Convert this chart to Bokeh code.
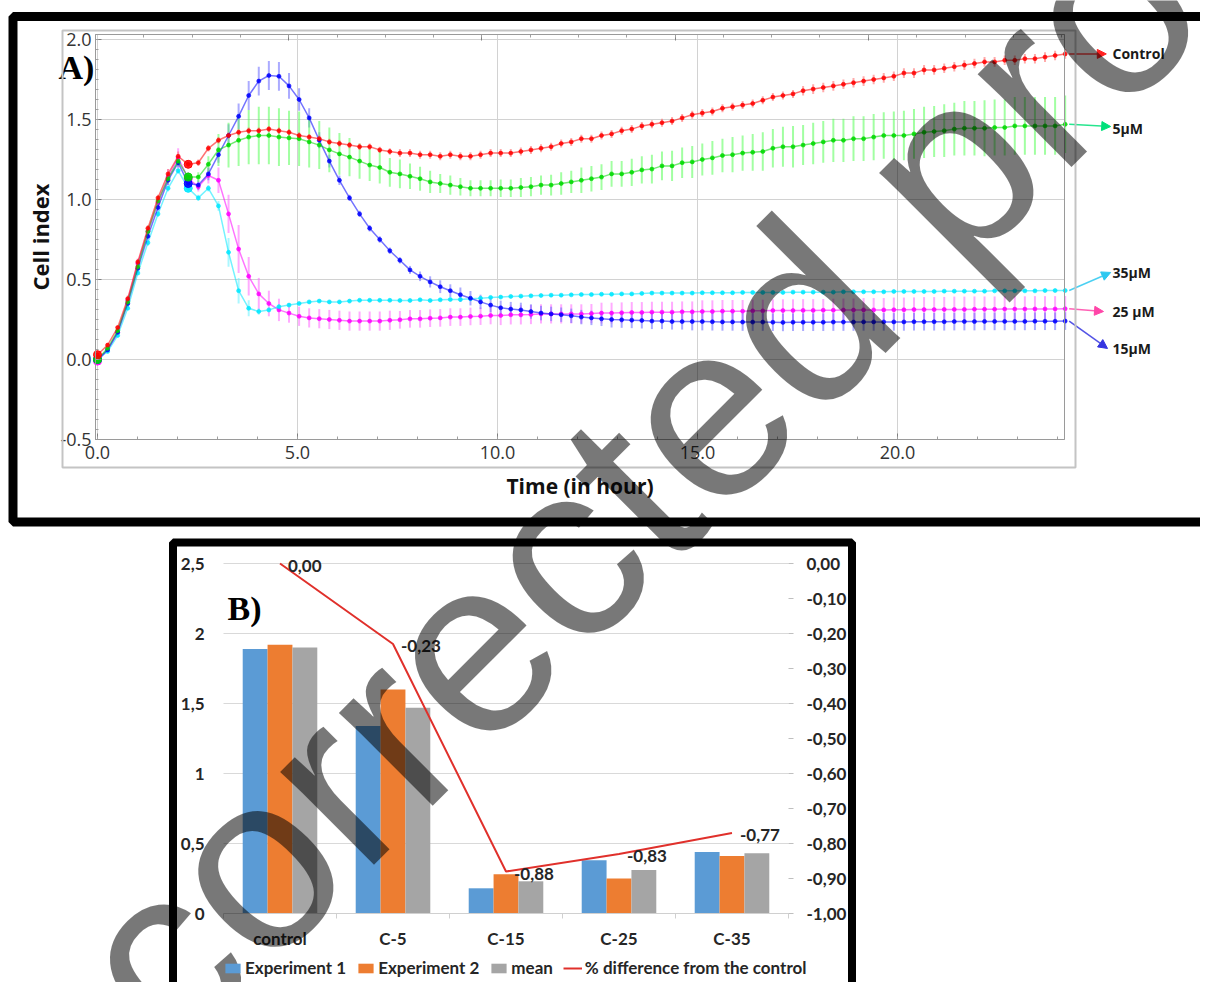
from bokeh.plotting import figure
from bokeh.models import (Range1d, LinearAxis, FixedTicker,
                          BoxAnnotation, Label, Arrow, NormalHead, Legend,
                          LegendItem, ColumnDataSource)
from bokeh.transform import dodge
from bokeh.core.properties import value
from bokeh.embed import file_html
from bokeh.resources import INLINE

# ======================= Panel A data (cell index vs time) =======================
hours = [round(0.252 * i, 3) for i in range(97)]   # sampling grid (~15 min)

control = [0.03, 0.09, 0.20, 0.38, 0.61, 0.82, 1.01, 1.16, 1.27,
           1.22, 1.23, 1.32, 1.37, 1.40, 1.42, 1.43, 1.43, 1.44, 1.43, 1.42, 1.40,
           1.39, 1.38, 1.36, 1.35, 1.34, 1.33, 1.33, 1.31, 1.30,
           1.29, 1.29, 1.28, 1.28, 1.27, 1.28, 1.27, 1.27, 1.28, 1.29,
           1.29, 1.29, 1.30, 1.31, 1.32, 1.33, 1.35, 1.36, 1.38, 1.38,
           1.40, 1.41, 1.43, 1.44, 1.46, 1.47, 1.48, 1.49, 1.51, 1.53,
           1.54, 1.55, 1.57, 1.58, 1.59, 1.60, 1.62, 1.64, 1.65, 1.66,
           1.68, 1.69, 1.70, 1.71, 1.72, 1.73, 1.74, 1.75, 1.76, 1.77,
           1.79, 1.79, 1.81, 1.81, 1.82, 1.83, 1.84, 1.85, 1.86, 1.86,
           1.87, 1.87, 1.88, 1.88, 1.89, 1.90, 1.91]
control_err = [0.01, 0.01, 0.01, 0.02, 0.02, 0.02, 0.02, 0.03, 0.03,
               0.02, 0.02, 0.02, 0.02, 0.02, 0.02, 0.02, 0.02, 0.02, 0.02, 0.02, 0.02,
               0.02, 0.02, 0.02, 0.02, 0.02, 0.02, 0.02, 0.02, 0.02,
               0.025, 0.025, 0.025, 0.025, 0.025, 0.025, 0.025, 0.025, 0.025, 0.025,
               0.025, 0.025, 0.025, 0.025, 0.025, 0.025, 0.025, 0.025, 0.025, 0.025,
               0.025, 0.025, 0.025, 0.025, 0.025, 0.025, 0.025, 0.025, 0.025, 0.025,
               0.025, 0.025, 0.025, 0.025, 0.025, 0.025, 0.025, 0.025, 0.025, 0.025,
               0.03, 0.03, 0.03, 0.03, 0.03, 0.03, 0.03, 0.03, 0.03, 0.03,
               0.03, 0.03, 0.03, 0.03, 0.03, 0.03, 0.03, 0.03, 0.03, 0.03,
               0.03, 0.03, 0.03, 0.03, 0.03, 0.03, 0.03]

um5 = [0.00, 0.07, 0.18, 0.36, 0.58, 0.80, 0.99, 1.13, 1.24,
       1.14, 1.14, 1.22, 1.31, 1.34, 1.37, 1.39, 1.40, 1.40, 1.39, 1.385, 1.38,
       1.36, 1.34, 1.31, 1.285, 1.265, 1.24, 1.215, 1.20, 1.17,
       1.16, 1.145, 1.13, 1.11, 1.10, 1.09, 1.08, 1.07, 1.07, 1.07,
       1.07, 1.07, 1.075, 1.08, 1.09, 1.09, 1.10, 1.11, 1.12, 1.13,
       1.14, 1.16, 1.16, 1.17, 1.185, 1.19, 1.21, 1.21, 1.23, 1.235,
       1.25, 1.26, 1.275, 1.28, 1.29, 1.295, 1.30, 1.32, 1.33, 1.33,
       1.34, 1.35, 1.36, 1.37, 1.37, 1.38, 1.38, 1.39, 1.40, 1.40,
       1.40, 1.41, 1.42, 1.425, 1.43, 1.44, 1.445, 1.445, 1.445, 1.45,
       1.45, 1.46, 1.46, 1.46, 1.46, 1.46, 1.47]
um5_err = [0.01, 0.01, 0.02, 0.02, 0.02, 0.03, 0.03, 0.03, 0.03,
           0.03, 0.03, 0.05, 0.10, 0.14, 0.16, 0.17, 0.18, 0.18, 0.18, 0.17, 0.17,
           0.16, 0.15, 0.14, 0.13, 0.12, 0.11, 0.10, 0.10, 0.09,
           0.09, 0.08, 0.075, 0.07, 0.06, 0.06, 0.055, 0.05, 0.05, 0.05,
           0.055, 0.055, 0.06, 0.06, 0.06, 0.065, 0.07, 0.07, 0.08, 0.08,
           0.08, 0.08, 0.08, 0.085, 0.085, 0.09, 0.09, 0.095, 0.095, 0.10,
           0.10, 0.105, 0.105, 0.11, 0.11, 0.115, 0.12, 0.12, 0.125, 0.13,
           0.125, 0.13, 0.13, 0.135, 0.135, 0.14, 0.14, 0.145, 0.145, 0.15,
           0.155, 0.155, 0.16, 0.16, 0.165, 0.165, 0.17, 0.17, 0.175, 0.175,
           0.175, 0.18, 0.18, 0.18, 0.18, 0.18, 0.18]

um15 = [0.00, 0.06, 0.17, 0.35, 0.57, 0.77, 0.95, 1.12, 1.23,
        1.10, 1.09, 1.16, 1.28, 1.40, 1.52, 1.65, 1.74, 1.775, 1.77, 1.71, 1.625,
        1.51, 1.37, 1.24, 1.12, 1.01, 0.91, 0.82, 0.75, 0.68,
        0.62, 0.56, 0.52, 0.485, 0.455, 0.43, 0.405, 0.383, 0.36, 0.34,
        0.323, 0.315, 0.31, 0.30, 0.29, 0.285, 0.28, 0.273, 0.265, 0.26,
        0.254, 0.25, 0.248, 0.246, 0.244, 0.24, 0.24, 0.237, 0.237, 0.237,
        0.237, 0.236, 0.235, 0.235, 0.234, 0.234, 0.234, 0.233, 0.232, 0.233,
        0.233, 0.233, 0.233, 0.234, 0.234, 0.234, 0.235, 0.235, 0.235, 0.235,
        0.235, 0.236, 0.236, 0.236, 0.236, 0.237, 0.237, 0.237, 0.238, 0.238,
        0.238, 0.238, 0.238, 0.239, 0.239, 0.239, 0.24]
um15_err = [0.01, 0.01, 0.01, 0.02, 0.02, 0.02, 0.02, 0.03, 0.03,
            0.03, 0.03, 0.04, 0.05, 0.07, 0.08, 0.09, 0.09, 0.09, 0.09, 0.08, 0.07,
            0.06, 0.05, 0.04, 0.03, 0.02, 0.02, 0.02, 0.02, 0.02,
            0.02, 0.025, 0.03, 0.035, 0.04, 0.04, 0.045, 0.045, 0.045, 0.045,
            0.045, 0.045, 0.045, 0.045, 0.045, 0.045, 0.045, 0.045, 0.045, 0.045,
            0.045, 0.05, 0.05, 0.05, 0.05, 0.05, 0.05, 0.05, 0.05, 0.055,
            0.055, 0.055, 0.055, 0.055, 0.055, 0.055, 0.055, 0.055, 0.055, 0.055,
            0.055, 0.055, 0.055, 0.055, 0.055, 0.055, 0.055, 0.055, 0.055, 0.055,
            0.055, 0.055, 0.055, 0.055, 0.055, 0.055, 0.055, 0.055, 0.055, 0.055,
            0.055, 0.055, 0.055, 0.055, 0.055, 0.055, 0.055]

um25 = [-0.01, 0.06, 0.17, 0.37, 0.60, 0.80, 0.98, 1.14, 1.26,
        1.13, 1.08, 1.15, 1.12, 0.91, 0.69, 0.52, 0.41, 0.35, 0.31, 0.29, 0.27,
        0.26, 0.255, 0.25, 0.245, 0.24, 0.24, 0.24, 0.24, 0.245,
        0.248, 0.254, 0.254, 0.258, 0.26, 0.265, 0.265, 0.269, 0.271, 0.275,
        0.275, 0.279, 0.279, 0.281, 0.285, 0.285, 0.285, 0.285, 0.285, 0.287,
        0.29, 0.29, 0.292, 0.294, 0.294, 0.296, 0.296, 0.296, 0.298, 0.298,
        0.30, 0.30, 0.302, 0.302, 0.302, 0.304, 0.304, 0.306, 0.306, 0.306,
        0.307, 0.307, 0.308, 0.308, 0.309, 0.309, 0.31, 0.31, 0.31, 0.311,
        0.311, 0.312, 0.312, 0.312, 0.313, 0.313, 0.313, 0.314, 0.314, 0.314,
        0.315, 0.315, 0.315, 0.316, 0.316, 0.316, 0.317]
um25_err = [0.01, 0.01, 0.02, 0.02, 0.03, 0.03, 0.04, 0.05, 0.06,
            0.04, 0.03, 0.05, 0.08, 0.12, 0.15, 0.12, 0.10, 0.08, 0.07, 0.06, 0.06,
            0.06, 0.06, 0.06, 0.06, 0.06, 0.06, 0.06, 0.06, 0.06,
            0.055, 0.055, 0.055, 0.055, 0.055, 0.055, 0.055, 0.055, 0.055, 0.055,
            0.06, 0.06, 0.06, 0.06, 0.06, 0.06, 0.06, 0.06, 0.06, 0.06,
            0.065, 0.065, 0.065, 0.065, 0.065, 0.065, 0.065, 0.065, 0.065, 0.065,
            0.07, 0.07, 0.07, 0.07, 0.07, 0.07, 0.07, 0.07, 0.07, 0.07,
            0.07, 0.07, 0.07, 0.072, 0.072, 0.072, 0.074, 0.074, 0.074, 0.076,
            0.076, 0.076, 0.078, 0.078, 0.078, 0.08, 0.08, 0.08, 0.08, 0.08,
            0.08, 0.08, 0.08, 0.08, 0.08, 0.08, 0.08]

um35 = [0.00, 0.05, 0.15, 0.32, 0.54, 0.73, 0.91, 1.07, 1.18,
        1.07, 1.01, 1.07, 0.96, 0.67, 0.43, 0.32, 0.30, 0.31, 0.33, 0.34, 0.35,
        0.36, 0.365, 0.36, 0.36, 0.365, 0.37, 0.37, 0.37, 0.37,
        0.369, 0.369, 0.373, 0.369, 0.373, 0.375, 0.375, 0.379, 0.383, 0.388,
        0.39, 0.394, 0.396, 0.398, 0.40, 0.402, 0.402, 0.404, 0.406, 0.406,
        0.408, 0.408, 0.41, 0.41, 0.413, 0.415, 0.415, 0.415, 0.415, 0.415,
        0.417, 0.417, 0.417, 0.417, 0.419, 0.419, 0.419, 0.419, 0.419, 0.421,
        0.421, 0.421, 0.421, 0.421, 0.423, 0.423, 0.423, 0.423, 0.423, 0.425,
        0.425, 0.425, 0.425, 0.425, 0.427, 0.427, 0.427, 0.427, 0.427, 0.429,
        0.429, 0.429, 0.429, 0.429, 0.431, 0.431, 0.431]
um35_err = [0.01, 0.01, 0.01, 0.01, 0.01, 0.02, 0.02, 0.02, 0.02,
            0.02, 0.02, 0.02, 0.03, 0.09, 0.08, 0.05, 0.02, 0.015, 0.015, 0.01, 0.01,
            0.01, 0.01, 0.01, 0.01, 0.01, 0.01, 0.01, 0.01, 0.01,
            0.01, 0.01, 0.01, 0.01, 0.01, 0.01, 0.01, 0.01, 0.01, 0.01,
            0.01, 0.01, 0.01, 0.01, 0.01, 0.01, 0.01, 0.01, 0.01, 0.01,
            0.01, 0.01, 0.01, 0.01, 0.01, 0.01, 0.01, 0.01, 0.01, 0.01,
            0.01, 0.01, 0.01, 0.01, 0.01, 0.01, 0.01, 0.01, 0.01, 0.01,
            0.01, 0.01, 0.01, 0.01, 0.01, 0.01, 0.01, 0.01, 0.01, 0.01,
            0.01, 0.01, 0.01, 0.01, 0.01, 0.01, 0.01, 0.01, 0.01, 0.01,
            0.01, 0.01, 0.01, 0.01, 0.01, 0.01, 0.01]

series_names = ["Control", "5µM", "35µM", "25 µM", "15µM"]
x_tick_vals = [0, 5, 10, 15, 20]
x_tick_labels = ["0.0", "5.0", "10.0", "15.0", "20.0"]
y_tick_vals = [-0.5, 0.0, 0.5, 1.0, 1.5, 2.0]
y_tick_labels = ["-0.5", "0.0", "0.5", "1.0", "1.5", "2.0"]

# ======================= Panel B data (bar chart) =======================
categories = ["control", "C-5", "C-15", "C-25", "C-35"]
experiment1 = [1.89, 1.34, 0.18, 0.38, 0.44]
experiment2 = [1.92, 1.60, 0.28, 0.25, 0.41]
mean_vals = [1.90, 1.47, 0.23, 0.31, 0.43]
pct_diff = [0.00, -0.23, -0.88, -0.83, -0.77]
pct_labels = ["0,00", "-0,23", "-0,88", "-0,83", "-0,77"]
left_ticks = [0, 0.5, 1.0, 1.5, 2.0, 2.5]
left_tick_labels = ["0", "0,5", "1", "1,5", "2", "2,5"]
right_ticks = [0.0, -0.1, -0.2, -0.3, -0.4, -0.5, -0.6, -0.7, -0.8, -0.9, -1.0]
right_tick_labels = ["0,00", "-0,10", "-0,20", "-0,30", "-0,40", "-0,50",
                     "-0,60", "-0,70", "-0,80", "-0,90", "-1,00"]

WATERMARK = "Uncorrected proof"

# ======================= page geometry (page pixels) =======================
PX_L, PX_R, PX_T, PX_B = 0, 1200, 0, 982           # drawable page area
A_X0, A_KX, A_Y0, A_KY = 97, 40.0, 359, 160.0      # panel A: t=0 / v=0 and px per unit
B_X0, B_KX, B_Y0, B_KY = 223, 113.0, 913, 140.0    # panel B category axis / left axis
P_Y0, P_KY = 563, 350.0                            # panel B right (percent) axis

p = figure(width=PX_R - PX_L, height=PX_B - PX_T, output_backend="svg",
           toolbar_location=None, title=None,
           x_range=Range1d(PX_L, PX_R), y_range=Range1d(PX_B, PX_T),
           x_axis_location=None, y_axis_location=None, min_border=0,
           outline_line_color=None, background_fill_color="white",
           border_fill_color="white")
p.grid.visible = False
p.extra_x_ranges = {
    "tA": Range1d((PX_L - A_X0) / A_KX, (PX_R - A_X0) / A_KX),
    "xB": Range1d((PX_L - B_X0) / B_KX, (PX_R - B_X0) / B_KX),
}
p.extra_y_ranges = {
    "vA": Range1d((A_Y0 - PX_B) / A_KY, (A_Y0 - PX_T) / A_KY),
    "yB": Range1d((B_Y0 - PX_B) / B_KY, (B_Y0 - PX_T) / B_KY),
    "pB": Range1d((P_Y0 - PX_B) / P_KY, (P_Y0 - PX_T) / P_KY),
}
A = dict(x_range_name="tA", y_range_name="vA")

# ======================= Panel A =======================
t_lo = (95 - A_X0) / A_KX
t_hi = (1064 - A_X0) / A_KX
v_lo, v_hi = -0.5, (A_Y0 - 34) / A_KY
ax_col = "#9a9a9a"


def style_a(ax):
    ax.axis_line_color = ax_col
    ax.major_tick_line_color = "#808080"
    ax.minor_tick_line_color = "#a0a0a0"
    ax.major_tick_in = 6
    ax.major_tick_out = 0
    ax.minor_tick_in = 3
    ax.minor_tick_out = 0
    ax.major_label_text_font = "Open Sans"
    ax.major_label_text_font_size = "18px"
    ax.major_label_text_color = "#333333"
    ax.axis_label_text_font = "Open Sans"
    ax.axis_label_text_font_style = "bold"
    ax.axis_label_text_color = "#111111"


xa = LinearAxis(fixed_location=v_lo, bounds=(t_lo, t_hi),
                ticker=FixedTicker(ticks=x_tick_vals, minor_ticks=list(range(0, 25))),
                major_label_overrides=dict(zip(x_tick_vals, x_tick_labels)),
                axis_label="Time (in hour)", **A)
style_a(xa)
xa.major_label_standoff = 6
xa.axis_label_text_font_size = "21px"
xa.axis_label_standoff = 10
p.add_layout(xa, "below")

ya = LinearAxis(fixed_location=t_lo, bounds=(v_lo, v_hi),
                ticker=FixedTicker(ticks=y_tick_vals,
                                   minor_ticks=[round(-0.5 + 0.0625 * k, 4) for k in range(41)]),
                major_label_overrides=dict(zip(y_tick_vals, y_tick_labels)),
                axis_label="Cell index", **A)
style_a(ya)
ya.major_label_standoff = 4
ya.axis_label_text_font_size = "22px"
ya.axis_label_standoff = 2
p.add_layout(ya, "left")

top_major = [4.78, 9.61, 14.44, 19.27]
top_minor = [1.16, 2.37, 3.57, 4.78, 5.99, 7.20, 8.40, 9.61, 10.82, 12.03, 13.23,
             14.44, 15.65, 16.86, 18.06, 19.27, 20.48, 21.69, 22.89, 24.10]
ta = LinearAxis(fixed_location=v_hi, bounds=(t_lo, t_hi),
                ticker=FixedTicker(ticks=top_major, minor_ticks=top_minor),
                major_label_overrides={t: "" for t in top_major}, **A)
style_a(ta)
p.add_layout(ta, "above")

# grid lines and plot box
p.segment(x0=x_tick_vals, y0=v_lo, x1=x_tick_vals, y1=v_hi,
          line_color="#d2d2d2", line_width=1, **A)
p.segment(x0=t_lo, y0=y_tick_vals[1:], x1=t_hi, y1=y_tick_vals[1:],
          line_color="#d2d2d2", line_width=1, **A)
p.add_layout(BoxAnnotation(left=t_lo, right=t_hi, bottom=v_lo, top=v_hi,
                           fill_color=None, line_color=ax_col, line_alpha=1,
                           line_width=1, **A))

styles = [
    # values, errors, line colour, bar colour
    (um25, um25_err, "#ff00ff", "#ff66ff"),
    (um35, um35_err, "#00e8ff", "#66f0ff"),
    (um15, um15_err, "#0000ff", "#6666ff"),
    (um5, um5_err, "#00d800", "#55ff55"),
    (control, control_err, "#ff0000", "#ff6666"),
]
for vals, errs, col, bcol in styles:
    src = ColumnDataSource(dict(t=hours,
                                lo=[v - e for v, e in zip(vals, errs)],
                                hi=[v + e for v, e in zip(vals, errs)]))
    p.segment(x0="t", y0="lo", x1="t", y1="hi", source=src,
              line_color=bcol, line_width=2, line_alpha=0.55, **A)
for vals, errs, col, bcol in styles:
    src = ColumnDataSource(dict(t=hours, v=vals))
    p.line("t", "v", source=src, line_color=col, line_width=1.5, line_alpha=0.55, **A)
    p.scatter("t", "v", source=src, size=4, fill_color=col, line_color=col,
              fill_alpha=0.85, line_alpha=0.6, **A)
    p.scatter([hours[0], hours[9]], [vals[0], vals[9]], size=8,
              fill_color=col, line_color=col, fill_alpha=0.85, **A)

# series name labels with arrows
name_order = [control, um5, um35, um25, um15]
name_colors = ["#ff2020", "#00e07a", "#2cc8f0", "#ff45a8", "#3535e0"]
label_t = (1112 - A_X0) / A_KX
label_y = [1.9125, 1.444, 0.544, 0.300, 0.069]
tip_t = [25.22, 25.33, 25.33, 25.15, 25.25]
tip_y = [1.91, 1.456, 0.544, 0.300, 0.069]
p.text(x=[label_t] * len(series_names), y=label_y, text=series_names,
       text_font=value("Open Sans"), text_font_style="bold",
       text_font_size="14px", text_baseline="middle", text_color="#1a1a1a", **A)
for vals, c, tx, ty in zip(name_order, name_colors, tip_t, tip_y):
    p.add_layout(Arrow(x_start=hours[-1] + 0.1, y_start=vals[-1], x_end=tx, y_end=ty,
                       line_color=c, line_width=1.5, line_alpha=0.85,
                       end=NormalHead(size=9, fill_color=c, line_color=c), **A))

p.add_layout(Label(x=58, y=67, text="A)", text_font="Liberation Serif",
                   text_font_style="bold", text_font_size="34px",
                   text_color="black", text_baseline="alphabetic"))
p.add_layout(BoxAnnotation(left=62, right=1075, top=30, bottom=467,
                           fill_color=None, line_color="#c4c4c4", line_alpha=1,
                           line_width=2))

# ======================= Panel B =======================
B = dict(x_range_name="xB", y_range_name="yB")
FONT_B = "Lato"
TXT_B = "#262626"
FS_B = "17px"
cat_pos = [i + 0.5 for i in range(len(categories))]   # category centres
n_cat = len(categories)


def style_b(ax):
    ax.axis_line_color = None
    ax.major_tick_line_color = None
    ax.minor_tick_line_color = None
    ax.major_tick_in = 0
    ax.major_tick_out = 0
    ax.minor_tick_in = 0
    ax.minor_tick_out = 0
    ax.major_label_text_font = FONT_B
    ax.major_label_text_font_style = "bold"
    ax.major_label_text_font_size = FS_B
    ax.major_label_text_color = TXT_B


la = LinearAxis(fixed_location=0, ticker=FixedTicker(ticks=left_ticks),
                major_label_overrides=dict(zip(left_ticks, left_tick_labels)), **B)
style_b(la)
la.major_label_standoff = 19
p.add_layout(la, "left")

ra = LinearAxis(fixed_location=n_cat, ticker=FixedTicker(ticks=right_ticks),
                major_label_overrides=dict(zip(right_ticks, right_tick_labels)),
                x_range_name="xB", y_range_name="pB")
style_b(ra)
ra.major_tick_line_color = "#bfbfbf"
ra.major_tick_out = 5
ra.major_label_standoff = 13
p.add_layout(ra, "right")

ba = LinearAxis(fixed_location=0, bounds=(0, n_cat), ticker=FixedTicker(ticks=cat_pos),
                major_label_overrides=dict(zip(cat_pos, categories)), **B)
style_b(ba)
ba.axis_line_color = "#d0d0d0"
ba.major_label_standoff = 14
p.add_layout(ba, "below")

# horizontal grid lines and category separators
p.segment(x0=0, y0=left_ticks[1:], x1=n_cat, y1=left_ticks[1:],
          line_color="#d9d9d9", line_width=1, **B)
p.segment(x0=list(range(n_cat + 1)), y0=0, x1=list(range(n_cat + 1)), y1=-5 / B_KY,
          line_color="#d0d0d0", line_width=1, **B)

bsrc = ColumnDataSource(dict(pos=cat_pos, e1=experiment1, e2=experiment2, m=mean_vals))
r1 = p.vbar(x=dodge("pos", -0.22), top="e1", width=0.22, source=bsrc,
            fill_color="#5B9BD5", line_color=None, **B)
r2 = p.vbar(x=dodge("pos", 0.0), top="e2", width=0.22, source=bsrc,
            fill_color="#ED7D31", line_color=None, **B)
r3 = p.vbar(x=dodge("pos", 0.22), top="m", width=0.22, source=bsrc,
            fill_color="#A5A5A5", line_color=None, **B)
rl = p.line(x=cat_pos, y=pct_diff, line_color="#E0302B", line_width=2,
            x_range_name="xB", y_range_name="pB")
p.text(x=cat_pos, y=pct_diff, text=pct_labels, x_offset=8, y_offset=2,
       text_baseline="middle", text_font=value(FONT_B), text_font_style="bold",
       text_font_size=FS_B, text_color=TXT_B, x_range_name="xB", y_range_name="pB")

legend = Legend(items=[LegendItem(label="Experiment 1", renderers=[r1]),
                       LegendItem(label="Experiment 2", renderers=[r2]),
                       LegendItem(label="mean", renderers=[r3]),
                       LegendItem(label="% difference from the control", renderers=[rl])],
                orientation="horizontal", location=(B_X0 - PX_L, PX_B - 978),
                label_text_font=FONT_B, label_text_font_style="bold",
                label_text_font_size=FS_B, label_text_color=TXT_B,
                glyph_width=19, glyph_height=12, label_height=16, label_standoff=3,
                spacing=10, padding=0, margin=0, border_line_color=None,
                background_fill_alpha=0)
p.add_layout(legend)

p.add_layout(Label(x=227, y=608, text="B)", text_font="Liberation Serif",
                   text_font_style="bold", text_font_size="34px",
                   text_color="black", text_baseline="alphabetic"))

# ======================= black frames and watermark =======================
p.add_layout(BoxAnnotation(left=12.5, right=1240, top=16, bottom=521.5,
                           fill_color=None, line_color="black", line_alpha=1,
                           line_width=9, level="overlay"))
p.add_layout(BoxAnnotation(left=172.5, right=851.5, top=542, bottom=1020,
                           fill_color=None, line_color="black", line_alpha=1,
                           line_width=8, level="overlay"))
p.add_layout(Label(x=-112.6, y=1228, text=WATERMARK, angle=45, angle_units="deg",
                   text_font="Liberation Sans", text_font_size="250px",
                   text_color="black", text_alpha=0.53,
                   text_baseline="alphabetic", text_align="left", level="overlay"))

open("out.html", "w").write(file_html(p, INLINE))
